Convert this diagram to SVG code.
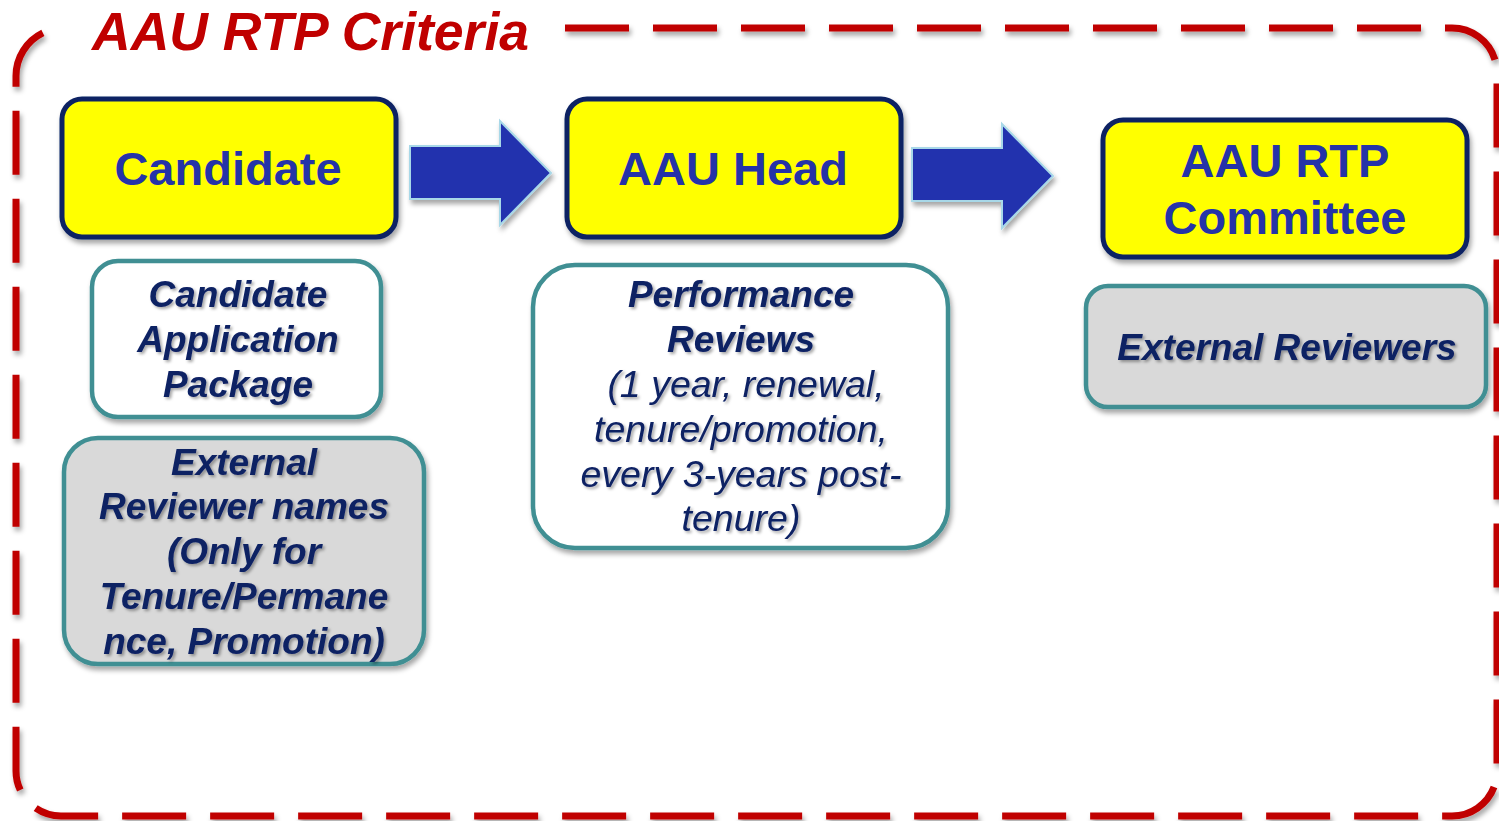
<svg xmlns="http://www.w3.org/2000/svg" width="1499" height="821" viewBox="0 0 1499 821">
<defs>
<filter id="sh" x="-10%" y="-10%" width="125%" height="130%">
<feDropShadow dx="2" dy="4" stdDeviation="2.5" flood-color="#000" flood-opacity="0.35"/>
</filter>
<filter id="tsh" x="-5%" y="-10%" width="115%" height="130%">
<feDropShadow dx="2" dy="2" stdDeviation="1.5" flood-color="#000" flood-opacity="0.35"/>
</filter>
<style>
.border{fill:none;stroke:#c00000;stroke-width:7;stroke-dasharray:64 24}
.main{fill:#ffff00;stroke:#0b2463;stroke-width:5}
.sub{stroke:#3f8f93;stroke-width:4.5}
.white{fill:#ffffff}
.gray{fill:#d9d9d9}
.arrow{fill:#2430ae;stroke:#a8d8e8;stroke-width:2}
.mt{font-family:"Liberation Sans",Arial,sans-serif;font-weight:bold;font-size:47px;fill:#2533a8;text-anchor:middle}
.st{font-family:"Liberation Sans",Arial,sans-serif;font-weight:bold;font-style:italic;font-size:37px;fill:#0c2064;text-anchor:middle}
.it{font-family:"Liberation Sans",Arial,sans-serif;font-style:italic;font-size:37.5px;fill:#0c2064;text-anchor:middle}
.title{font-family:"Liberation Sans",Arial,sans-serif;font-weight:bold;font-style:italic;font-size:53.5px;fill:#c00000}
</style>
</defs>
<rect width="1499" height="821" fill="#ffffff"/>
<g id="frame" filter="url(#sh)">
<path class="border" d="M565,28 H1452 A45,45 0 0 1 1497,73 V771 A45,45 0 0 1 1452,816 H61 A45,45 0 0 1 16,771 V76 A48,48 0 0 1 44,32.4"/>
</g>
<text id="title" class="title" x="92" y="50">AAU RTP Criteria</text>
<g id="connectors" filter="url(#sh)">
<path class="arrow" d="M410,146 H500 V121 L551,173 L500,225 V199 H410 Z"/>
<path class="arrow" d="M912,148 H1002 V124 L1053,176 L1002,228 V201 H912 Z"/>
</g>
<g id="candidate">
<rect class="main" x="62" y="99" width="334" height="138" rx="20" filter="url(#sh)"/>
<text class="mt" x="228" y="185">Candidate</text>
</g>
<g id="aau-head">
<rect class="main" x="567" y="99" width="334" height="138" rx="20" filter="url(#sh)"/>
<text class="mt" x="733" y="185">AAU Head</text>
</g>
<g id="aau-rtp-committee">
<rect class="main" x="1103" y="120" width="364" height="137" rx="20" filter="url(#sh)"/>
<text class="mt" x="1285" y="177">AAU RTP</text>
<text class="mt" x="1285" y="234">Committee</text>
</g>
<g id="candidate-application-package">
<rect class="sub white" x="92" y="261" width="289" height="156" rx="26" filter="url(#sh)"/>
<g filter="url(#tsh)">
<text class="st" x="238" y="307">Candidate</text>
<text class="st" x="238" y="352">Application</text>
<text class="st" x="238" y="397">Package</text>
</g>
</g>
<g id="external-reviewer-names">
<rect class="sub gray" x="64" y="438" width="360" height="226" rx="34" filter="url(#sh)"/>
<g filter="url(#tsh)">
<text class="st" x="244" y="475">External</text>
<text class="st" x="244" y="519">Reviewer names</text>
<text class="st" x="244" y="564">(Only for</text>
<text class="st" x="244" y="609">Tenure/Permane</text>
<text class="st" x="244" y="654">nce, Promotion)</text>
</g>
</g>
<g id="performance-reviews">
<rect class="sub white" x="533" y="265" width="415" height="283" rx="42" filter="url(#sh)"/>
<g filter="url(#tsh)">
<text class="st" x="741" y="307">Performance</text>
<text class="st" x="741" y="352">Reviews</text>
<text class="it" x="746" y="397">(1 year, renewal,</text>
<text class="it" x="741" y="442">tenure/promotion,</text>
<text class="it" x="741" y="487">every 3-years post-</text>
<text class="it" x="741" y="531">tenure)</text>
</g>
</g>
<g id="external-reviewers">
<rect class="sub gray" x="1086" y="286" width="400" height="121" rx="22" filter="url(#sh)"/>
<g filter="url(#tsh)">
<text class="st" x="1287" y="360">External Reviewers</text>
</g>
</g>
</svg>
